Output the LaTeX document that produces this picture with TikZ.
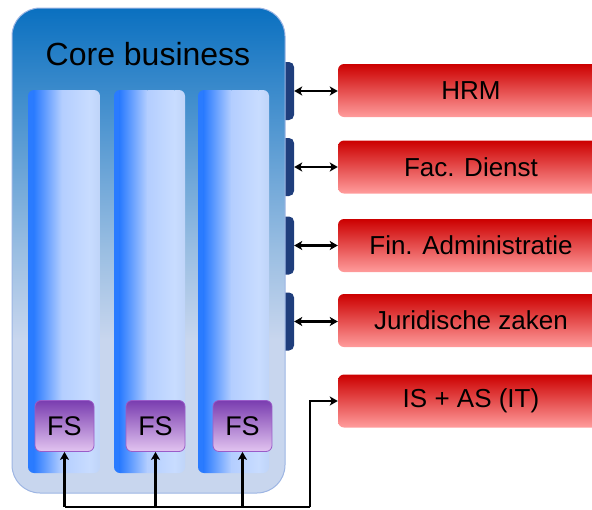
\documentclass[tikz,border=0pt]{standalone}
\usepackage{fontspec}
\setmainfont{Liberation Sans}
\usetikzlibrary{arrows.meta}
\definecolor{coreTop}{HTML}{0A70C0}
\definecolor{coreMid}{HTML}{9ABEE2}
\definecolor{coreLow}{HTML}{C8D6EE}
\definecolor{coreEdge}{HTML}{9DB5E3}
\definecolor{colA}{HTML}{2A7BFF}
\definecolor{colB}{HTML}{6EA3FF}
\definecolor{colC}{HTML}{B4CEFF}
\definecolor{colE}{HTML}{C8DCFF}
\definecolor{colF}{HTML}{BFD4F8}
\definecolor{fsTop}{HTML}{7A3DB0}
\definecolor{fsBot}{HTML}{E2C4F0}
\definecolor{fsEdge}{HTML}{9A5CC8}
\definecolor{redTop}{HTML}{CC0000}
\definecolor{redBot}{HTML}{FF9C9C}
\definecolor{tabBlue}{HTML}{1F3E7C}
\pgfdeclareverticalshading{coreshade}{100bp}{color(0bp)=(coreLow); color(25bp)=(coreLow); color(40.8bp)=(coreLow); color(50bp)=(coreMid); color(75bp)=(coreTop); color(100bp)=(coreTop)}
\newcommand\ColBar[2]{%
  \pgfmathsetmacro\cbA{#1+0.08*(#2-#1)}%
  \pgfmathsetmacro\cbB{#1+0.47*(#2-#1)}%
  \pgfmathsetmacro\cbC{#1+0.85*(#2-#1)}%
  \begin{scope}
    \clip[rounded corners=6pt] (#1,90) rectangle (#2,473);
    \fill[colA] (#1,90) rectangle (\cbA,473);
    \shade[left color=colA, right color=colC] (\cbA,90) rectangle (\cbB,473);
    \shade[left color=colC, right color=colE] (\cbB,90) rectangle (\cbC,473);
    \shade[left color=colE, right color=colF] (\cbC,90) rectangle (#2,473);
  \end{scope}}
\tikzset{
  corebox/.style={shading=coreshade, draw=coreEdge, line width=1pt, rounded corners=28pt},
  fsbox/.style={draw=fsEdge, line width=0.8pt, top color=fsTop, bottom color=fsBot, rounded corners=6pt, minimum width=59pt, minimum height=51pt, inner sep=0pt, font=\fontsize{27}{30}\selectfont},
  redbox/.style={top color=redTop, bottom color=redBot, rounded corners=6pt, minimum width=266pt, minimum height=53pt, inner sep=0pt, font=\fontsize{26}{30}\selectfont},
  tabbox/.style={fill=tabBlue, rounded corners=5pt, minimum width=20pt, minimum height=58pt, inner sep=0pt},
  dblarrow/.style={{Stealth[length=8pt,width=9pt,inset=2pt]}-{Stealth[length=8pt,width=9pt,inset=2pt]}, line width=2.3pt},
  onearrow/.style={-{Stealth[length=8pt,width=9pt,inset=2pt]}, line width=2.3pt},
  busline/.style={line width=2.3pt}
}
\begin{document}
\begin{tikzpicture}[x=1pt,y=-1pt]
\useasboundingbox (0,0) rectangle (592,509);
\clip (0,0) rectangle (592,509);
% tabs (behind the core box)
\node[tabbox] (t1) at (284,91) {};
\node[tabbox] (t2) at (284,167) {};
\node[tabbox] (t3) at (284,245.5) {};
\node[tabbox] (t4) at (284,321.5) {};
% core box
\path[corebox] (12,8) rectangle (285,493);
\node[anchor=base, font=\fontsize{32}{36}\selectfont] (core) at (148,65.5) {Core business};
% columns
\ColBar{28}{100}
\ColBar{114}{185}
\ColBar{198}{269}
% FS boxes
\node[fsbox] (fs1) at (64.5,426) {FS};
\node[fsbox] (fs2) at (155.5,426) {FS};
\node[fsbox] (fs3) at (242.5,426) {FS};
% red boxes
\node[redbox] (hrm) at (471,90.5) {HRM};
\node[redbox] (fac) at (471,167) {Fac. Dienst};
\node[redbox] (fin) at (471,245.5) {Fin. Administratie};
\node[redbox] (jur) at (471,320.5) {Juridische zaken};
\node[redbox] (isas) at (471,401) {IS + AS (IT)};
% double arrows
\draw[dblarrow] (t1.east) -- (hrm.west |- t1.east);
\draw[dblarrow] (t2.east) -- (fac.west |- t2.east);
\draw[dblarrow] (t3.east) -- (fin.west |- t3.east);
\draw[dblarrow] (t4.east) -- (jur.west |- t4.east);
% bus
\coordinate (busL) at (64.5,507);
\coordinate (busR) at (310,507);
\draw[busline] (busL) -- (busR);
\draw[onearrow] (busL) -- (fs1.south);
\draw[onearrow] (fs2.south |- busL) -- (fs2.south);
\draw[onearrow] (fs3.south |- busL) -- (fs3.south);
\draw[onearrow] (busR) |- (isas.west);
\end{tikzpicture}
\end{document}
